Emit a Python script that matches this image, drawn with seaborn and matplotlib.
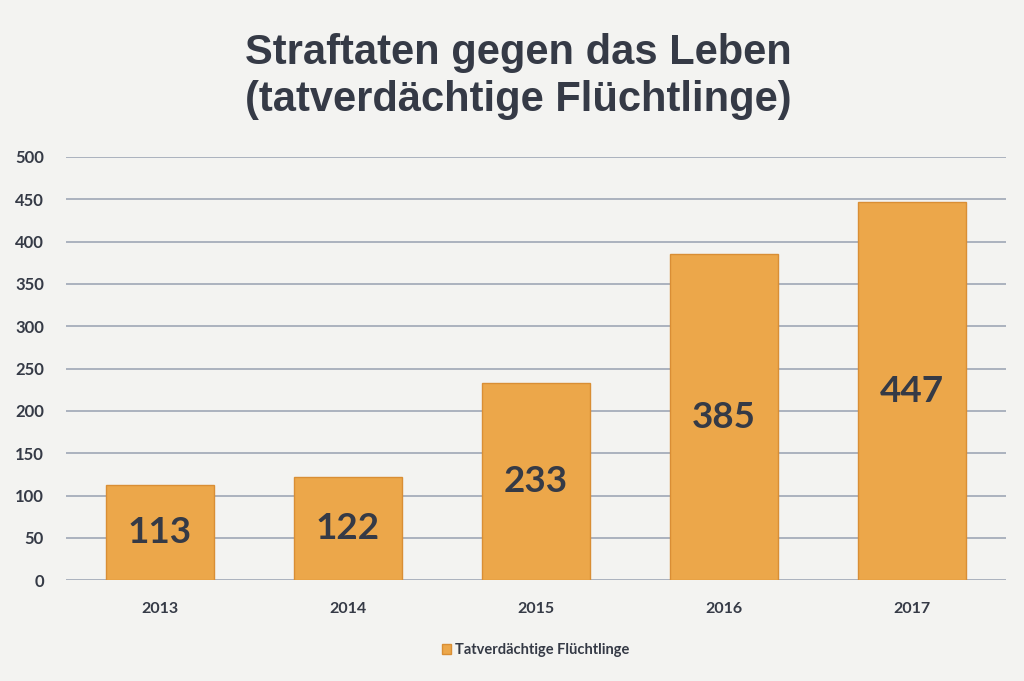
import matplotlib
matplotlib.use("Agg")
import matplotlib.pyplot as plt
import seaborn as sns
import pandas as pd

years = ["2013", "2014", "2015", "2016", "2017"]
values = [113, 122, 233, 385, 447]
series_name = "Tatverdächtige Flüchtlinge"
title = "Straftaten gegen das Leben\n(tatverdächtige Flüchtlinge)"
yticks = [0, 50, 100, 150, 200, 250, 300, 350, 400, 450, 500]

sns.set_theme(style="white")
plt.rcParams['font.family'] = ['Lato', 'DejaVu Sans']

bg = "#f3f3f1"
bar_color = "#eca74a"
text_color = "#353a46"
grid_color = "#9ea7b6"

df = pd.DataFrame({"Jahr": years, "Wert": values})

fig = plt.figure(figsize=(10.24, 6.81), dpi=100, facecolor=bg)
ax = fig.add_axes([0.0645, 0.148, 0.9175, 0.6215])
ax.set_facecolor(bg)

sns.barplot(data=df, x="Jahr", y="Wert", color=bar_color, width=0.575,
            edgecolor="#d98e35", linewidth=1.0, saturation=1,
            label=series_name, ax=ax, zorder=3)

ax.set_ylim(0, 500)
ax.set_xlim(-0.5, 4.5)
ax.set_yticks(yticks)
ax.yaxis.grid(True, color=grid_color, linewidth=1.2, zorder=0)
ax.set_axisbelow(True)
for s in ax.spines.values():
    s.set_visible(False)
ax.set_xlabel("")
ax.set_ylabel("")
ax.tick_params(axis="y", length=0, pad=16, labelsize=12, labelcolor=text_color)
ax.tick_params(axis="x", length=0, pad=16, labelsize=11.5, labelcolor=text_color)
for lbl in ax.get_yticklabels() + ax.get_xticklabels():
    lbl.set_fontweight("bold")

for i, v in enumerate(values):
    ax.text(i, v / 2, str(v), ha="center", va="center", fontsize=26.5,
            fontweight="bold", color=text_color, zorder=4)

fig.text(0.506, 0.888, title, ha="center", va="center", fontsize=30,
         fontweight="bold", color=text_color, family=["Liberation Sans", "DejaVu Sans"],
         linespacing=1.22)

leg = ax.legend(loc="center", bbox_to_anchor=(0.5, -0.165), frameon=False,
                handlelength=0.6, handleheight=0.6, handletextpad=0.3,
                prop={"size": 10.5, "weight": "bold"})
for t in leg.get_texts():
    t.set_color(text_color)

fig.savefig("out.png", dpi=100, facecolor=bg)
